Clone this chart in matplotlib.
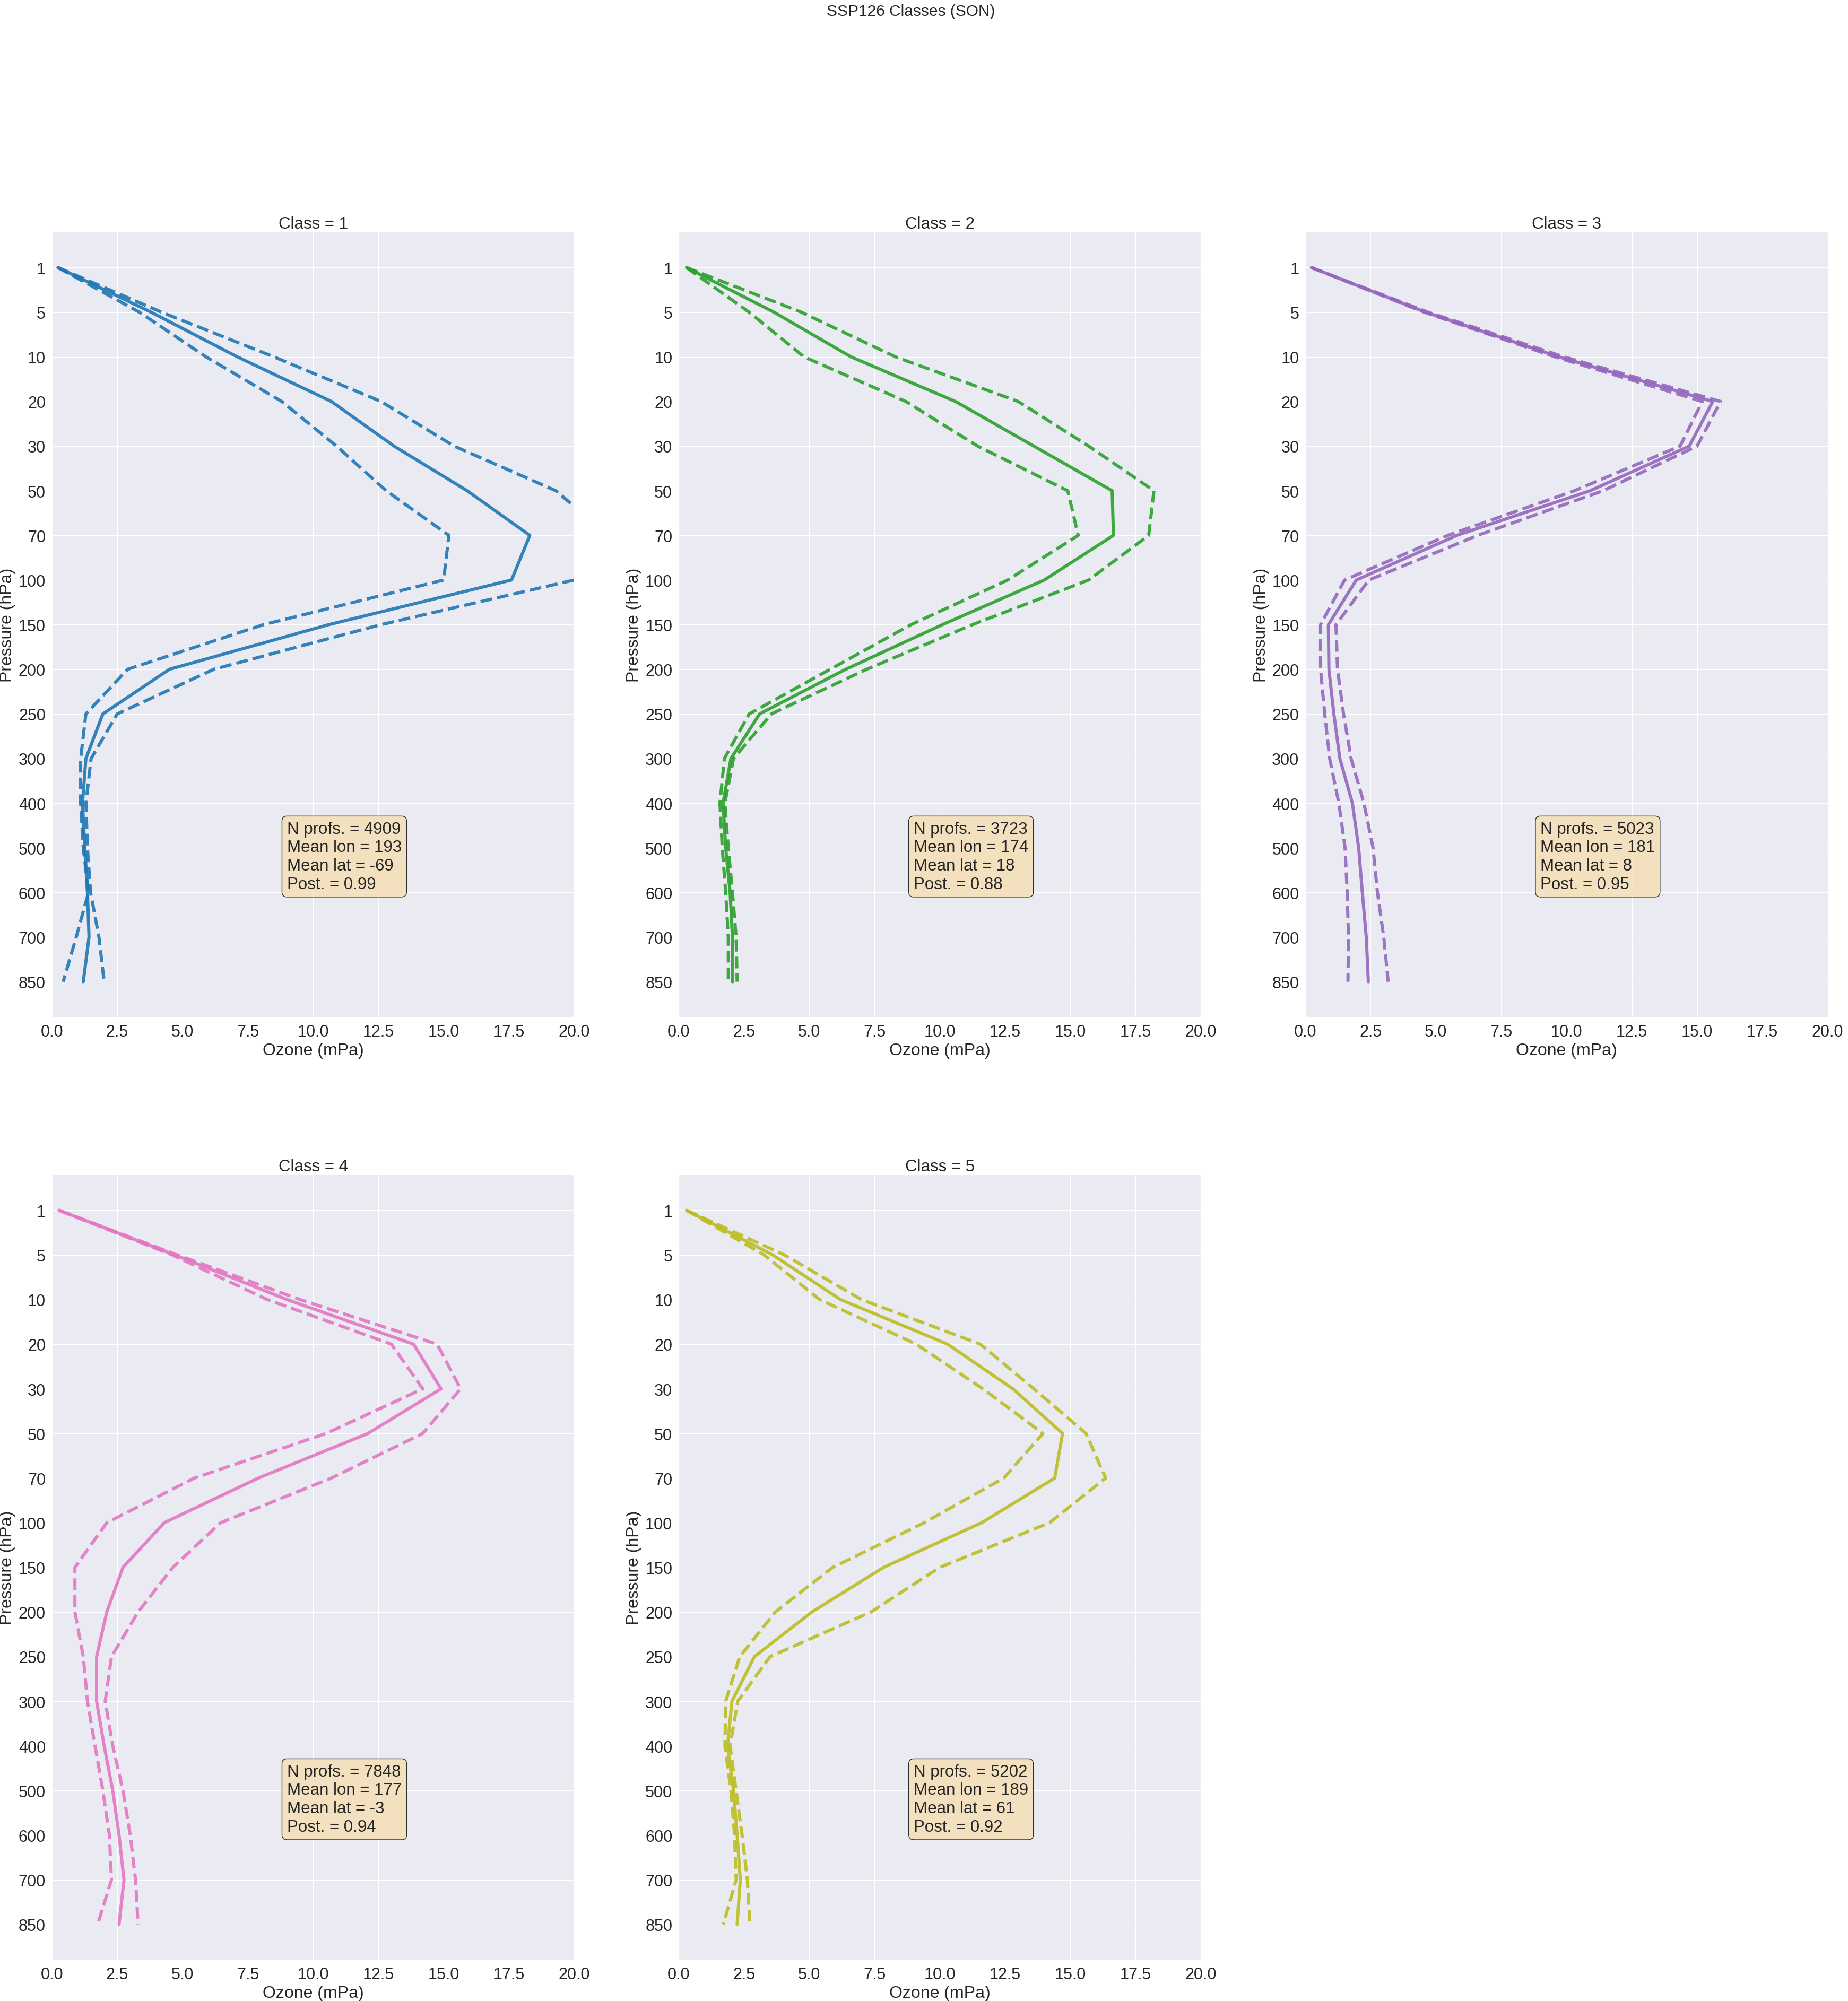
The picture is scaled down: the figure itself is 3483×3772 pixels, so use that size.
import matplotlib
matplotlib.use('Agg')
import matplotlib.pyplot as plt
import seaborn as sns

# pressure levels (hPa), plotted as evenly spaced categories
levels = [1, 5, 10, 20, 30, 50, 70, 100, 150, 200, 250, 300, 400, 500, 600, 700, 850]

class_ids = [1, 2, 3, 4, 5]
class_colors = ['#1f77b4', '#2ca02c', '#9467bd', '#e377c2', '#bcbd22']

# mean ozone profiles (mPa)
mean_1 = [0.23, 3.8, 7.1, 10.7, 13.1, 15.9, 18.3, 17.6, 10.6, 4.5, 1.95, 1.3, 1.17, 1.26, 1.36, 1.42, 1.2]
mean_2 = [0.3, 3.65, 6.6, 10.6, 13.6, 16.6, 16.65, 14.0, 10.1, 6.4, 3.1, 2.0, 1.7, 1.8, 1.97, 2.06, 2.06]
mean_3 = [0.23, 4.6, 9.7, 15.6, 14.7, 10.9, 5.8, 1.95, 0.88, 0.9, 1.09, 1.32, 1.8, 2.04, 2.18, 2.33, 2.41]
mean_4 = [0.27, 4.7, 9.0, 13.85, 14.9, 12.1, 7.9, 4.3, 2.72, 2.1, 1.71, 1.71, 2.0, 2.33, 2.57, 2.76, 2.57]
mean_5 = [0.3, 3.6, 6.2, 10.3, 12.8, 14.7, 14.4, 11.6, 7.85, 5.1, 2.9, 2.04, 1.87, 2.1, 2.24, 2.36, 2.24]

# upper bound profiles (mPa)
upper_1 = [0.23, 4.2, 8.5, 12.6, 15.4, 19.3, 21.3, 20.0, 12.6, 6.2, 2.5, 1.5, 1.3, 1.36, 1.48, 1.8, 2.0]
upper_2 = [0.3, 4.7, 8.3, 13.0, 15.7, 18.2, 18.0, 15.7, 11.25, 7.2, 3.55, 2.1, 1.77, 1.9, 2.06, 2.2, 2.24]
upper_3 = [0.23, 4.7, 9.9, 15.9, 15.0, 11.4, 6.6, 2.43, 1.17, 1.23, 1.46, 1.75, 2.24, 2.59, 2.76, 3.0, 3.17]
upper_4 = [0.27, 4.8, 9.5, 14.75, 15.65, 14.2, 10.7, 6.46, 4.63, 3.3, 2.28, 2.04, 2.33, 2.72, 3.0, 3.2, 3.3]
upper_5 = [0.3, 4.05, 7.0, 11.55, 13.6, 15.6, 16.35, 14.2, 10.0, 7.36, 3.5, 2.26, 1.97, 2.2, 2.43, 2.63, 2.73]

# lower bound profiles (mPa)
lower_1 = [0.23, 3.35, 5.9, 8.8, 10.9, 12.8, 15.2, 15.0, 8.1, 2.9, 1.3, 1.1, 1.1, 1.2, 1.4, 0.93, 0.43]
lower_2 = [0.3, 2.7, 4.8, 8.7, 11.45, 14.9, 15.3, 12.6, 8.9, 5.8, 2.7, 1.75, 1.58, 1.67, 1.8, 1.9, 1.9]
lower_3 = [0.23, 4.55, 9.55, 15.2, 14.35, 10.3, 5.45, 1.5, 0.58, 0.58, 0.74, 0.93, 1.28, 1.52, 1.6, 1.65, 1.63]
lower_4 = [0.27, 4.6, 8.25, 13.0, 14.2, 10.5, 5.45, 2.1, 0.88, 0.88, 1.2, 1.36, 1.65, 1.95, 2.2, 2.28, 1.75]
lower_5 = [0.3, 3.27, 5.4, 9.1, 11.65, 13.95, 12.45, 9.4, 5.9, 3.7, 2.34, 1.8, 1.77, 2.0, 2.14, 2.2, 1.71]

# class statistics shown in the text boxes
n_profs = [4909, 3723, 5023, 7848, 5202]
mean_lon = [193, 174, 181, 177, 189]
mean_lat = [-69, 18, 8, -3, 61]
posterior = [0.99, 0.88, 0.95, 0.94, 0.92]

means = [mean_1, mean_2, mean_3, mean_4, mean_5]
uppers = [upper_1, upper_2, upper_3, upper_4, upper_5]
lowers = [lower_1, lower_2, lower_3, lower_4, lower_5]

sns.set_style('darkgrid')
plt.rcParams['font.family'] = ['Liberation Sans', 'DejaVu Sans']

fig, axes = plt.subplots(2, 3, figsize=(34.83, 37.73), dpi=100)
fig.subplots_adjust(left=0.0281, right=0.989, bottom=0.0204, top=0.8839,
                    wspace=0.2, hspace=0.2)
axes = axes.flatten()

ypos = list(range(len(levels)))

for i, cid in enumerate(class_ids):
    ax = axes[i]
    col = class_colors[i]
    ax.plot(means[i], ypos, color=col, lw=4.3, alpha=0.9)
    ax.plot(uppers[i], ypos, color=col, lw=4.3, ls='--', alpha=0.9)
    ax.plot(lowers[i], ypos, color=col, lw=4.3, ls='--', alpha=0.9)

    ax.set_yticks(ypos)
    ax.set_yticklabels([str(p) for p in levels])
    ax.set_ylim(len(levels) - 1 + 0.8, -0.8)
    ax.set_xlim(0, 20)
    ax.tick_params(axis='both', labelsize=22, pad=5)

    ax.set_xlabel('Ozone (mPa)', fontsize=23)
    ax.set_ylabel('Pressure (hPa)', fontsize=23)
    ax.set_title(f'Class = {cid}', fontsize=22.5, pad=5)

    txt = (f'N profs. = {n_profs[i]}\nMean lon = {mean_lon[i]}\n'
           f'Mean lat = {mean_lat[i]}\nPost. = {posterior[i]:.2f}')
    ax.text(0.45, 0.25, txt, transform=ax.transAxes, fontsize=22.5,
            va='top', ha='left',
            bbox=dict(boxstyle='round', facecolor='wheat', edgecolor='black',
                      alpha=0.8))

axes[5].remove()

fig.suptitle('SSP126 Classes (SON)', fontsize=21.5, x=0.493, y=0.998)

fig.savefig('out.png', dpi=100)
